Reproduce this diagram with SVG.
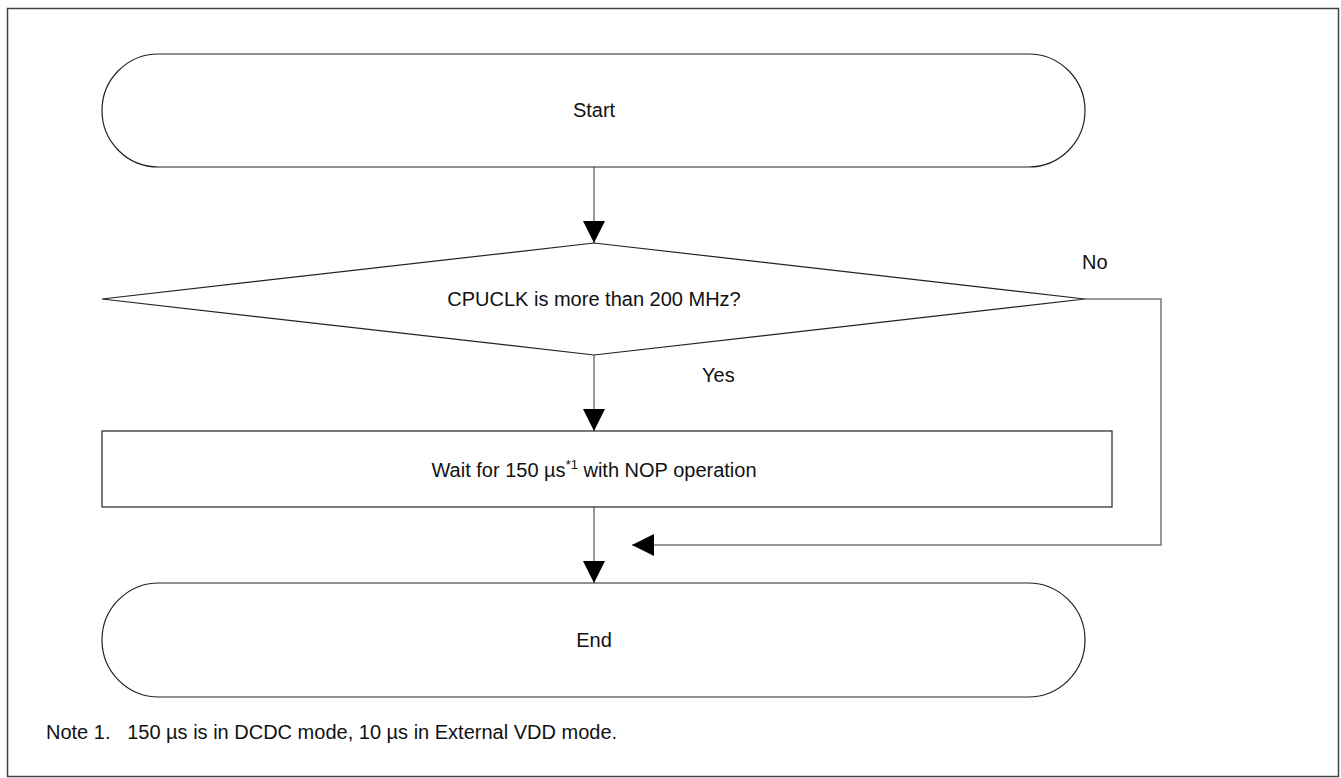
<svg xmlns="http://www.w3.org/2000/svg" width="1341" height="778" viewBox="0 0 1341 778">
<style>
text{font-family:"Liberation Sans",Arial,sans-serif;font-size:20px;fill:#111}
.shape{fill:#fff;stroke:#222;stroke-width:1.2}
.conn{fill:none;stroke:#777;stroke-width:1.5}
</style>
<defs>
<marker id="ah" markerWidth="23" markerHeight="22" refX="22" refY="11" orient="auto" markerUnits="userSpaceOnUse">
<path d="M0,0 L22,11 L0,22 Z" fill="#000"/>
</marker>
</defs>
<rect x="0" y="0" width="1341" height="778" fill="#fff"/>
<rect x="7.5" y="8.5" width="1331" height="768" fill="none" stroke="#444" stroke-width="1.5"/>
<g id="connectors">
<line class="conn" x1="594" y1="167" x2="594" y2="243" marker-end="url(#ah)"/>
<line class="conn" x1="594" y1="355" x2="594" y2="431" marker-end="url(#ah)"/>
<line class="conn" x1="594" y1="507" x2="594" y2="583" marker-end="url(#ah)"/>
<polyline class="conn" points="1085,299 1161,299 1161,545 632,545" marker-end="url(#ah)"/>
</g>
<g id="start">
<rect class="shape" x="102" y="54" width="983" height="113" rx="56.5" ry="56.5"/>
<text x="594" y="117" text-anchor="middle">Start</text>
</g>
<g id="decision">
<polygon class="shape" points="594,243 1085,299 594,355 102,299"/>
<text x="594" y="306" text-anchor="middle">CPUCLK is more than 200 MHz?</text>
</g>
<g id="labels">
<text x="1082" y="269">No</text>
<text x="702" y="382">Yes</text>
</g>
<g id="wait">
<rect class="shape" x="102" y="431" width="1010" height="76"/>
<text x="594" y="477" text-anchor="middle">Wait for 150 µs<tspan dy="-8" font-size="13">*1</tspan><tspan dy="8"> with NOP operation</tspan></text>
</g>
<g id="end">
<rect class="shape" x="102" y="583" width="983" height="114" rx="57" ry="57"/>
<text x="594" y="647" text-anchor="middle">End</text>
</g>
<g id="note">
<text x="46" y="739" xml:space="preserve">Note 1.   150 µs is in DCDC mode, 10 µs in External VDD mode.</text>
</g>
</svg>
